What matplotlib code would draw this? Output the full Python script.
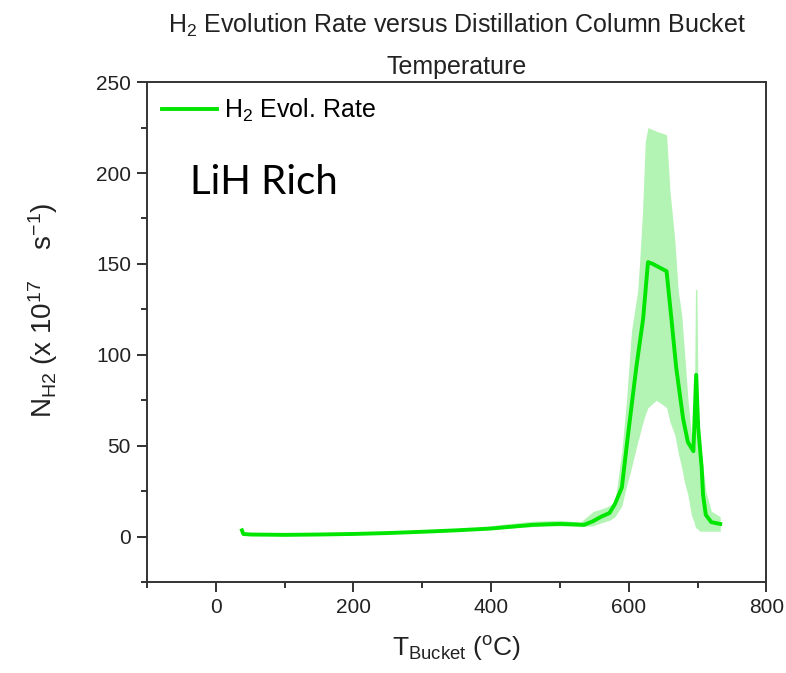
import matplotlib
matplotlib.use("Agg")
import matplotlib.pyplot as plt
from matplotlib.ticker import MultipleLocator

plt.rcParams['font.family'] = ['Liberation Sans', 'DejaVu Sans']
plt.rcParams['mathtext.fontset'] = 'custom'
plt.rcParams['mathtext.rm'] = 'Liberation Sans'
plt.rcParams['mathtext.it'] = 'Liberation Sans:italic'

# Smoothed H2 evolution rate (x 10^17 s^-1) vs bucket temperature (C)
temp = [38, 40, 50, 100, 150, 200, 250, 300, 350, 400, 430, 460, 480, 500, 520,
        535, 548, 560, 572, 580, 590, 599, 611, 621, 628, 635, 645, 655, 662,
        669, 679, 686, 694, 698, 701, 706, 708, 712, 720, 733]
rate = [3.5, 1.5, 1.2, 1.0, 1.2, 1.5, 2.0, 2.7, 3.5, 4.5, 5.5, 6.5, 6.8, 7.0, 6.8,
        6.5, 8.5, 11, 13, 18, 27, 56, 93, 120, 151, 150, 148, 146, 120,
        93, 65, 52, 47, 89, 60, 38, 23, 12, 8, 7]

# Scatter envelope of the raw data
band_t = [380, 420, 460, 500, 530, 548, 563, 572, 580, 590, 597, 604, 613, 616,
          620, 624, 628, 634, 640, 648, 655, 660, 667, 672, 677, 681, 686, 691,
          695, 697, 699, 701, 703, 706, 712, 720, 733]
band_hi = [5, 7, 8.5, 9, 8, 13.8, 15.6, 17, 19, 47, 76, 113, 135, 152,
           178, 217, 225, 224, 223, 222, 221, 190, 163, 135, 122, 102, 76, 56,
           51, 136, 136, 70, 55, 45, 25, 14, 11]
band_lo = [3.5, 4.5, 5.5, 6, 5.5, 6, 8, 9, 11, 17, 28, 38, 52, 56,
           62, 67, 71, 73, 75, 73, 71, 63, 56, 46, 38, 30, 23, 12,
           8, 5, 4.6, 4, 3, 3, 3, 3, 3]

fig = plt.figure(figsize=(7.86, 6.73), dpi=100)
ax = fig.add_axes([0.187, 0.135, 0.788, 0.743])

ax.fill_between(band_t, band_lo, band_hi, color='#b3f3b3', lw=0, zorder=1)
ax.plot(temp, rate, color='#00e600', lw=2.8, zorder=2, label='H$_2$ Evol. Rate')

ax.set_xlim(-100, 800)
ax.set_ylim(-25, 250)
ax.xaxis.set_major_locator(MultipleLocator(200))
ax.xaxis.set_minor_locator(MultipleLocator(100))
ax.yaxis.set_major_locator(MultipleLocator(50))
ax.yaxis.set_minor_locator(MultipleLocator(25))
ax.tick_params(which='both', direction='out', top=False, right=False,
               labelsize=15, width=1.3, color='#222222', pad=4,
               labelcolor='#222222')
ax.tick_params(which='major', length=7.5)
ax.tick_params(which='minor', length=4)
for s in ax.spines.values():
    s.set_linewidth(1.4)
    s.set_color('#333333')

ax.set_title('H$_2$ Evolution Rate versus Distillation Column Bucket\nTemperature',
             fontsize=18, pad=6, linespacing=1.85, color='#222222')
ax.set_xlabel('T$_{\\mathregular{Bucket}}$ ($^{\\mathregular{o}}$C)', fontsize=19,
              labelpad=12, color='#222222')
ax.set_ylabel('N$_{\\mathregular{H2}}$ (x 10$^{\\mathregular{17}}$    s$^{\\mathregular{-1}}$)',
              fontsize=20, color='#222222')
ax.yaxis.set_label_coords(-0.14, 0.544)

leg = ax.legend(loc='upper left', frameon=False, fontsize=18, handlelength=2.2,
                borderaxespad=0.1, borderpad=0.5, handletextpad=0.3)
ax.text(0.069, 0.80, 'LiH Rich', transform=ax.transAxes, fontsize=29,
        family=['Lato', 'DejaVu Sans'], va='center')

fig.savefig('out.png', dpi=100)
